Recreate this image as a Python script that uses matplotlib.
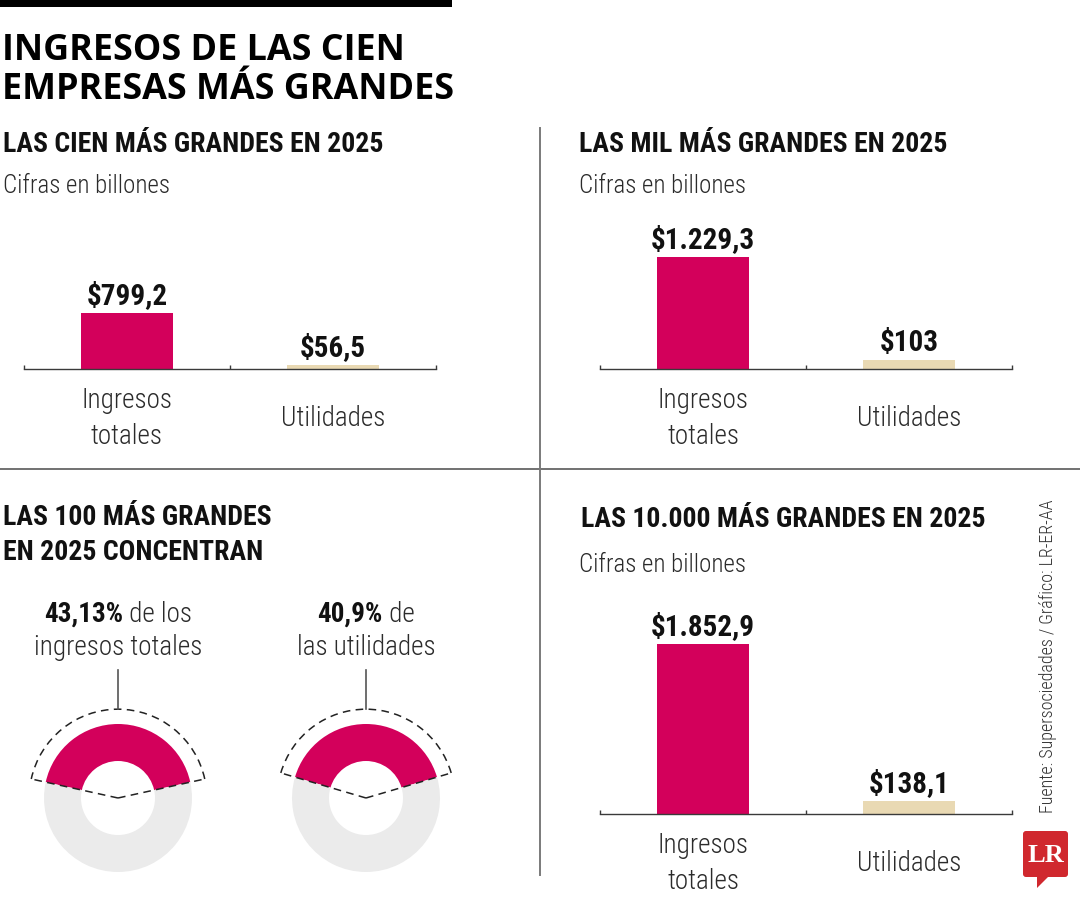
import matplotlib
matplotlib.use('Agg')
import numpy as np
import matplotlib.pyplot as plt
from matplotlib import font_manager
from matplotlib.patches import Arc, FancyBboxPatch, Polygon

W, H = 1080, 900

# --- data ---
categorias = ['Ingresos\ntotales', 'Utilidades']
cien_2025 = [799.2, 56.5]
mil_2025 = [1229.3, 103]
diezmil_2025 = [1852.9, 138.1]
concentracion = [43.13, 40.9]          # % de ingresos, % de utilidades
concentracion_txt = [(' de los', 'ingresos totales'), (' de', 'las utilidades')]
fuente = 'Fuente: Supersociedades / Gráfico: LR-ER-AA'

MAGENTA = '#D3005B'
BEIGE = '#E9D9B3'
GRIS = '#EBEBEB'
NEGRO = '#111111'
TEXTO = '#2b2b2b'

names = {f.name for f in font_manager.fontManager.ttflist}


def pick(*cands):
    for c in cands:
        if c in names:
            return c
    return 'DejaVu Sans'


NARROW = pick('Liberation Sans Narrow', 'Roboto Condensed', 'Roboto')
TITLE = pick('Open Sans', 'Noto Sans', 'Lato')
SERIF = pick('Liberation Serif', 'DejaVu Serif')


def fmt(v):
    s = f'{v:,.1f}' if v % 1 else f'{v:,.0f}'
    return '$' + s.replace(',', 'X').replace('.', ',').replace('X', '.')


fig = plt.figure(figsize=(W / 100, H / 100), dpi=100)
bg = fig.add_axes([0, 0, 1, 1])
bg.set_xlim(0, W)
bg.set_ylim(H, 0)
bg.axis('off')


def px_ax(x0, y0, x1, y1):
    return fig.add_axes([x0 / W, 1 - y1 / H, (x1 - x0) / W, (y1 - y0) / H])


# Header and dividers
bg.fill_between([0, 452], 0, 7, color='black', lw=0)
bg.text(2, 60, 'INGRESOS DE LAS CIEN', fontsize=25.8, fontweight='bold', family=TITLE, color='black', va='baseline')
bg.text(2, 99, 'EMPRESAS MÁS GRANDES', fontsize=25.8, fontweight='bold', family=TITLE, color='black', va='baseline')
bg.plot([0, W], [469, 469], color='#4a4a4a', lw=1.1)
bg.plot([540, 540], [128, 875], color='#7a7a7a', lw=1.4)

sub = dict(fontsize=20, fontweight='bold', family=NARROW, color=NEGRO, va='baseline')
light = dict(fontsize=18, fontweight='light', family=NARROW, color=TEXTO, va='baseline')
bg.text(3, 152, 'LAS CIEN MÁS GRANDES EN 2025', **sub)
bg.text(3, 193, 'Cifras en billones', **light)
bg.text(579, 152, 'LAS MIL MÁS GRANDES EN 2025', **sub)
bg.text(579, 193, 'Cifras en billones', **light)
bg.text(3, 525, 'LAS 100 MÁS GRANDES', **sub)
bg.text(3, 560, 'EN 2025 CONCENTRAN', **sub)
bg.text(581, 527, 'LAS 10.000 MÁS GRANDES EN 2025', **sub)
bg.text(579, 572, 'Cifras en billones', **light)


def bar_panel(x0, x1, base, alto, ymax, valores):
    ax = px_ax(x0, base - alto, x1, base)
    ax.patch.set_alpha(0)
    bars = ax.bar([0, 1], valores, width=0.45, color=[MAGENTA, BEIGE])
    ax.set_xlim(-0.5, 1.5)
    ax.set_ylim(0, ymax)
    for s in ['top', 'right', 'left']:
        ax.spines[s].set_visible(False)
    ax.spines['bottom'].set_color('#3a3a3a')
    ax.spines['bottom'].set_linewidth(1.0)
    ax.set_yticks([])
    ax.set_xticks([0, 1], categorias)
    ax.set_xticks([-0.5, 0.5, 1.5], minor=True)
    ax.tick_params(axis='x', which='major', length=0, pad=35.5, labelsize=19.5,
                   labelcolor=TEXTO, labelfontfamily=NARROW)
    ax.tick_params(axis='x', which='minor', direction='in', length=3, width=1, color='#3a3a3a')
    for lab in ax.get_xticklabels():
        lab.set_verticalalignment('center')
        lab.set_linespacing(1.4)
        lab.set_fontweight('light')
    ax.bar_label(bars, labels=[fmt(v) for v in valores], padding=2, fontsize=21,
                 fontweight='bold', family=NARROW, color=NEGRO)
    return ax


bar_panel(24, 436, 369, 200, 2850, cien_2025)
bar_panel(600, 1012, 369, 200, 2195, mil_2025)
bar_panel(600, 1012, 814, 300, 3270, diezmil_2025)


def mixed_line(x, y, parts, size):
    r = fig.canvas.get_renderer()
    texts = [bg.text(0, y, t, fontsize=size, fontweight=w, family=NARROW, color=NEGRO if w == 'bold' else TEXTO,
                     va='baseline', ha='left') for t, w in parts]
    widths = [t.get_window_extent(r).width for t in texts]
    xx = x - sum(widths) / 2
    for t, w in zip(texts, widths):
        t.set_x(xx)
        xx += w


def donut(cx, cy, pct, resto, linea2):
    R = 74.0
    half = 135
    ax = px_ax(cx - half, cy - half, cx + half, cy + half)
    span = pct * 3.6
    start = 90 - span / 2
    ax.pie([pct, 100 - pct], colors=[MAGENTA, GRIS], startangle=start, counterclock=True,
           radius=1, wedgeprops=dict(width=0.5, linewidth=0))
    lim = half / R
    ax.set_xlim(-lim, lim)
    ax.set_ylim(-lim, lim)
    ax.axis('off')
    rd = 1.2
    dash = (0, (5, 3.5))
    ax.add_patch(Arc((0, 0), 2 * rd, 2 * rd, theta1=start, theta2=start + span,
                     ls=dash, lw=1.1, color='#222222'))
    for a in (start, start + span):
        t = np.deg2rad(a)
        ax.plot([0, rd * np.cos(t)], [0, rd * np.sin(t)], ls=dash, lw=1.1, color='#222222')
    ax.plot([0, 0], [rd, rd + 0.53], color='#555555', lw=1.2)

    pct_txt = f'{pct}'.replace('.', ',') + '%'
    mixed_line(cx, 622, [(pct_txt, 'bold'), (resto, 'light')], 19.5)
    bg.text(cx, 655, linea2, fontsize=19.5, fontweight='light', family=NARROW, color=TEXTO,
            ha='center', va='baseline')


donut(118, 798, concentracion[0], *concentracion_txt[0])
donut(366, 798, concentracion[1], *concentracion_txt[1])

# Source + logo
bg.text(1053, 813, fuente, rotation=90, rotation_mode='anchor', ha='left', va='baseline',
        fontsize=13, fontweight='light', family=NARROW, color='#333333')
bg.add_patch(FancyBboxPatch((1023, 831), 45, 46, boxstyle='round,pad=0,rounding_size=3',
                            color='#D0282E', lw=0))
bg.add_patch(Polygon([(1037, 875), (1037, 888), (1050, 875)], closed=True, color='#D0282E', lw=0))
bg.text(1045.5, 855, 'LR', fontsize=19, fontweight='bold', family=SERIF, color='white',
        ha='center', va='center')

fig.savefig('out.png', dpi=100)
